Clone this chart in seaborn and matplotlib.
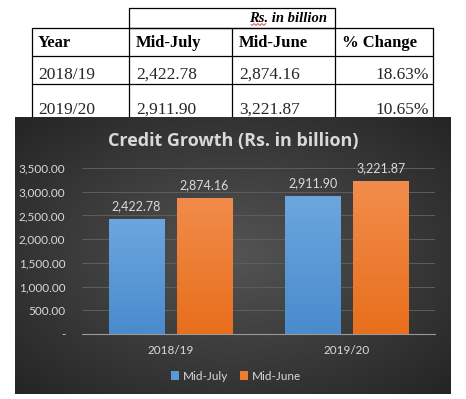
import numpy as np
import pandas as pd
import matplotlib
matplotlib.use("Agg")
import matplotlib.pyplot as plt
import seaborn as sns
from matplotlib.patches import Patch
from matplotlib.colors import to_rgb

# ---------------- data ----------------
years = ["2018/19", "2019/20"]
series = ["Mid-July", "Mid-June"]
mid_july = [2422.78, 2911.90]
mid_june = [2874.16, 3221.87]
pct_change = ["18.63%", "10.65%"]
table_headers = ["Year", "Mid-July", "Mid-June", "% Change"]
unit_note = "Rs. in billion"
chart_title = "Credit Growth (Rs. in billion)"
yticks = [0, 500, 1000, 1500, 2000, 2500, 3000, 3500]

df = pd.DataFrame({
    "year": years * 2,
    "series": [series[0]] * len(years) + [series[1]] * len(years),
    "value": mid_july + mid_june,
})

W, H = 466, 399
sns.set_theme(style="white")
plt.rcParams["font.family"] = ["DejaVu Sans"]
fig = plt.figure(figsize=(W / 100, H / 100), dpi=100)
fig.patch.set_facecolor("white")


def fr(x0, y0, x1, y1):
    return [x0 / W, 1 - y1 / H, (x1 - x0) / W, (y1 - y0) / H]


# ---------------- table (pixel coordinates) ----------------
tax = fig.add_axes([0, 0, 1, 1], zorder=0)
tax.set_xlim(0, W)
tax.set_ylim(H, 0)
tax.axis("off")
lw = 0.9
k = "black"
tax.plot([129, 335, 335, 129, 129], [7.5, 7.5, 28, 28, 7.5], color=k, lw=lw)
for yy in [28, 56, 83.5]:
    tax.plot([32, 433], [yy, yy], color=k, lw=lw)
for xx in [32, 129, 232, 335, 433]:
    tax.plot([xx, xx], [28, 118], color=k, lw=lw)
serif = "Liberation Serif"
tax.text(327, 18, unit_note, ha="right", va="center", fontsize=10.5,
         fontweight="bold", fontstyle="italic", family=serif, color="black")
sx = np.linspace(251, 266, 40)
tax.plot(sx, 24.5 + 0.8 * np.sin((sx - 251) * 1.6), color="#e03030", lw=0.6)

col_x = [38, 136, 239, 342]
for cx, h in zip(col_x, table_headers):
    tax.text(cx, 43, h, ha="left", va="center", fontsize=12, fontweight="bold",
             family=serif, color="black")
row_y = [75, 110]
for i, ry in enumerate(row_y):
    tax.text(col_x[0], ry, years[i], ha="left", va="center", fontsize=12.5, family=serif)
    tax.text(col_x[1], ry, f"{mid_july[i]:,.2f}", ha="left", va="center", fontsize=12.5, family=serif)
    tax.text(col_x[2], ry, f"{mid_june[i]:,.2f}", ha="left", va="center", fontsize=12.5, family=serif)
    tax.text(429, ry, pct_change[i], ha="right", va="center", fontsize=12.5, family=serif)

# ---------------- chart background (radial gradient) ----------------
bg = fig.add_axes(fr(15, 117, 451, 394), zorder=1)
yy, xx = np.mgrid[-1:1:200j, -1:1:300j]
r = np.sqrt(xx ** 2 + yy ** 2) / np.sqrt(2)
c_in = np.array([84, 84, 84]) / 255
c_out = np.array([36, 36, 36]) / 255
img = c_in[None, None, :] * (1 - r[..., None]) + c_out[None, None, :] * r[..., None]
bg.imshow(img, aspect="auto", extent=[0, 1, 0, 1])
bg.axis("off")

# ---------------- chart ----------------
ax = fig.add_axes(fr(82, 168, 435, 334), zorder=2)
ax.set_facecolor("none")
blue, orange = "#5B9BD5", "#ED7D31"
sns.barplot(data=df, x="year", y="value", hue="series", hue_order=series,
            palette=[blue, orange], width=0.77, gap=0.19, ax=ax,
            legend=False, saturation=1, zorder=3, edgecolor="none", linewidth=0)

# vertical gradient fill clipped to each bar
grad_cols = {0: ("#6ba7de", "#4a8bcd"), 1: ("#f28c4c", "#e86f1c")}
for si, cont in enumerate(ax.containers):
    top_c, bot_c = (np.array(to_rgb(c)) for c in grad_cols[si])
    t = np.linspace(0, 1, 100)[:, None]
    g = (top_c[None, :] * (1 - t) + bot_c[None, :] * t)[:, None, :]
    for b in cont:
        x0, w, h = b.get_x(), b.get_width(), b.get_height()
        im = ax.imshow(g, extent=[x0, x0 + w, 0, h], aspect="auto", zorder=3.5,
                       origin="upper")
        im.set_clip_path(b)

txt = "#D9D9D9"
font = "Lato"
for cont in ax.containers:
    ax.bar_label(cont, labels=[f"{b.get_height():,.2f}" for b in cont],
                 padding=5, color=txt, fontsize=9, family=font)
ax.set_xlim(-0.5, 1.5)
ax.set_ylim(0, 3500)
ax.set_yticks(yticks)
ax.set_yticklabels(["-" if v == 0 else f"{v:,.2f}" for v in yticks])
ax.set_xlabel("")
ax.set_ylabel("")
ax.grid(axis="y", color="#5e5e5e", lw=0.7)
ax.set_axisbelow(True)
for s in ["top", "right", "left"]:
    ax.spines[s].set_visible(False)
ax.spines["bottom"].set_color("#9a9a9a")
ax.spines["bottom"].set_linewidth(0.8)
ax.spines["bottom"].set_zorder(4)
ax.tick_params(axis="y", length=0, pad=12, labelsize=8.5, labelcolor=txt)
ax.tick_params(axis="x", length=0, pad=8, labelsize=8.5, labelcolor=txt)
for lab in ax.get_xticklabels() + ax.get_yticklabels():
    lab.set_family(font)

fig.text(233 / W, 1 - 141 / H, chart_title, ha="center", va="center",
         fontsize=13, fontweight="bold", color=txt, family="Open Sans")

handles = [Patch(facecolor=blue, edgecolor="none"), Patch(facecolor=orange, edgecolor="none")]
fig.legend(handles, series, loc="center", bbox_to_anchor=(236 / W, 1 - 376 / H),
           ncol=2, frameon=False, labelcolor=txt,
           handlelength=0.7, handleheight=0.7, handletextpad=0.3, columnspacing=1.0,
           prop={"family": font, "size": 8.5})

fig.savefig("out.png", dpi=100, facecolor="white")
